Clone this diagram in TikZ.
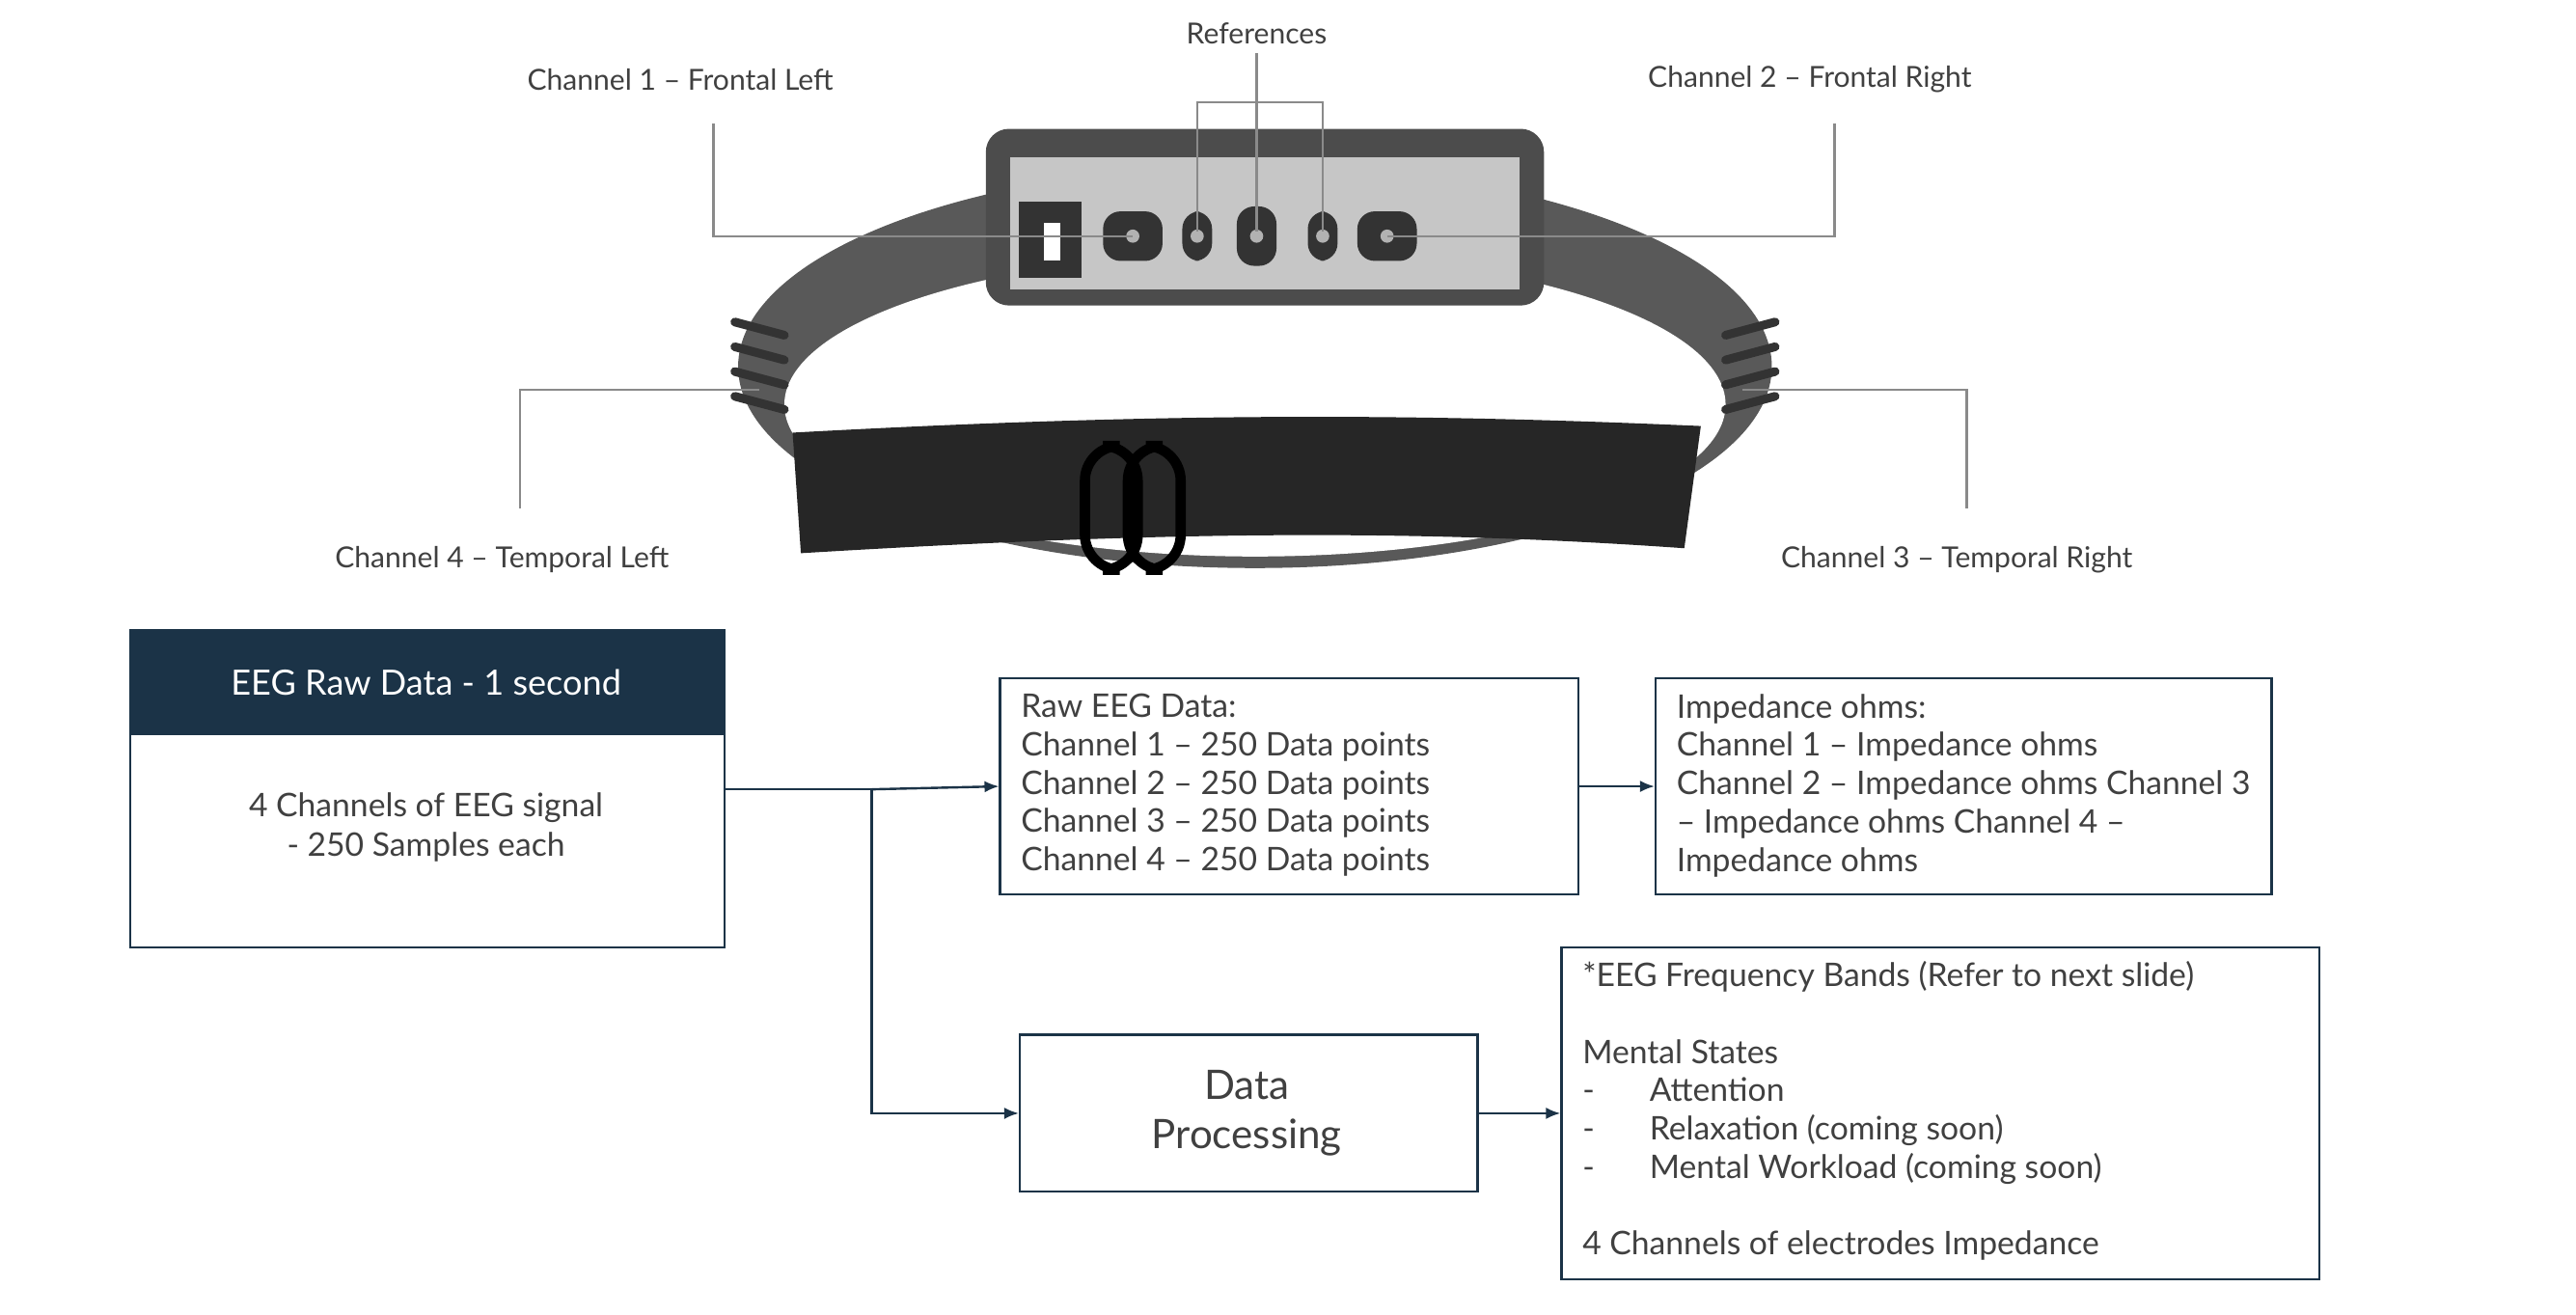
\documentclass[tikz,border=0pt]{standalone}
\usepackage{fontspec}
\setmainfont{Lato}
\usetikzlibrary{arrows.meta}
\definecolor{navy}{HTML}{1B3347}
\definecolor{txt}{HTML}{404040}
\definecolor{lead}{HTML}{8A8A8A}
\begin{document}
\begin{tikzpicture}[x=0.02cm,y=-0.02cm,
  lbl/.style={text=txt,font=\fontsize{10}{12}\selectfont,inner sep=0},
  box/.style={draw=navy,line width=0.8pt,inner sep=0},
  btxt/.style={text=txt,font=\fontsize{11.2}{13.2}\selectfont,align=left,anchor=north west,inner sep=0},
  lead/.style={draw=lead,line width=0.8pt},
  conn/.style={draw=navy,line width=0.8pt,-{Latex[length=5pt,width=4pt]}},
  seg/.style={draw=navy,line width=0.8pt}]
\useasboundingbox (0,0) rectangle (1560,796);
% headband
\fill[gray!70!black] (760,222) ellipse [x radius=313, y radius=122];
\fill[white] (760,245) ellipse [x radius=285, y radius=92];
\fill[gray!60!black,rounded corners=8] (597,78) rectangle (935,185);
\fill[gray!45] (612,95) rectangle (920,175);
\foreach \y in {195,210,225,240}{
  \draw[black!80,line width=3pt,line cap=round] (445,\y) -- (475,\y+8);
  \draw[black!80,line width=3pt,line cap=round] (1075,\y) -- (1045,\y+8);}
\fill[black!85] (480,262) .. controls (700,250) and (850,250) .. (1030,258) -- (1020,332) .. controls (850,320) and (700,322) .. (485,335) -- cycle;
\draw[black,line width=3.5pt,rounded corners=12] (657,270) rectangle (689,345);
\draw[black,line width=3.5pt,rounded corners=12] (683,270) rectangle (715,345);
\fill[black!80] (617,122) rectangle (655,168);
\fill[white] (632,135) rectangle (642,158);
\foreach \x/\w/\h in {686/36/30,725/18/30,761/24/36,801/18/30,840/36/30}{
  \fill[black!80,rounded corners=6] (\x-\w/2,143-\h/2) rectangle (\x+\w/2,143+\h/2);
  \fill[gray!60] (\x,143) circle (4);}
% leaders
\node[lbl] (ref) at (761,20) {References};
\node[lbl] (c1) at (412,48) {Channel 1 – Frontal Left};
\node[lbl] (c2) at (1096,48) {Channel 2 – Frontal Right};
\node[lbl] (c4) at (304,339) {Channel 4 – Temporal Left};
\node[lbl] (c3) at (1185,339) {Channel 3 – Temporal Right};
\coordinate (e1) at (686,143); \coordinate (e2) at (840,143);
\coordinate (e4) at (460,236); \coordinate (e3) at (1055,236);
\draw[lead] (761,32) -- (761,140);
\draw[lead] (725,140) -- (725,62) -- (801,62) -- (801,140);
\draw[lead] (432,75) |- (e1);
\draw[lead] (1111,75) |- (e2);
\draw[lead] (315,308) |- (e4);
\draw[lead] (1191,308) |- (e3);
% boxes
\fill[navy] (78,381) rectangle (438,445);
\node[box,minimum width=360*0.02cm,minimum height=192*0.02cm,anchor=north west] (raw) at (78,381) {};
\node[text=white,font=\fontsize{12}{14}\selectfont] at (258,413) {EEG Raw Data - 1 second};
\node[text=txt,font=\fontsize{11.2}{13.5}\selectfont,align=center] at (258,501) {4 Channels of EEG signal\\- 250 Samples each};
\node[box,minimum width=350*0.02cm,minimum height=131*0.02cm,anchor=north west] (dat) at (605,410) {};
\node[btxt] at (618,420) {Raw EEG Data:\\Channel 1 – 250 Data points\\Channel 2 – 250 Data points\\Channel 3 – 250 Data points\\Channel 4 – 250 Data points};
\node[box,minimum width=373*0.02cm,minimum height=131*0.02cm,anchor=north west] (imp) at (1002,410) {};
\node[btxt] at (1015,420) {Impedance ohms:\\Channel 1 – Impedance ohms\\Channel 2 – Impedance ohms Channel 3\\– Impedance ohms Channel 4 –\\Impedance ohms};
\node[box,minimum width=277*0.02cm,minimum height=95*0.02cm,anchor=north west] (dp) at (617,626) {};
\node[text=txt,font=\fontsize{14}{17}\selectfont,align=center] at (755,674) {Data\\Processing};
\node[box,minimum width=459*0.02cm,minimum height=201*0.02cm,anchor=north west] (fb) at (945,573) {};
\node[btxt] at (958,582) {*EEG Frequency Bands (Refer to next slide)\\[\baselineskip]Mental States\\-\hspace{19pt}Attention\\-\hspace{19pt}Relaxation (coming soon)\\-\hspace{19pt}Mental Workload (coming soon)\\[\baselineskip]4 Channels of electrodes Impedance};
% connectors
\coordinate (j) at (528,478);
\draw[seg] (438,478) -- (j);
\draw[conn] (j) -- (dat.west);
\draw[conn] (j) |- (dp.west);
\draw[conn] (dat.east) -- (imp.west);
\draw[conn] (dp.east) -- (fb.west |- dp.east);
\end{tikzpicture}
\end{document}
